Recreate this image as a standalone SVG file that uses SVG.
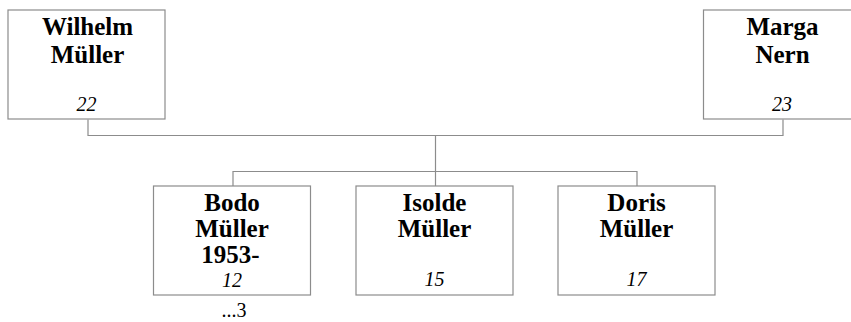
<svg xmlns="http://www.w3.org/2000/svg" width="851" height="322" viewBox="0 0 851 322">
<style>
.box{fill:#fff;stroke:#8c8c8c;stroke-width:1.2}
.n{font-family:"Liberation Serif","Times New Roman",serif;font-weight:bold;font-size:25px;text-anchor:middle;fill:#000}
.i{font-family:"Liberation Serif","Times New Roman",serif;font-style:italic;font-size:20px;text-anchor:middle;fill:#000}
.r{font-family:"Liberation Serif","Times New Roman",serif;font-size:20px;text-anchor:middle;fill:#000}
.c{fill:none;stroke:#8c8c8c;stroke-width:1.2}
</style>
<rect width="851" height="322" fill="#fff"/>
<g id="connectors">
<path class="c" d="M88 119.5V135.5H783V119.5"/>
<path class="c" d="M435.5 135.5V186"/>
<path class="c" d="M233 186V171.5H637V186"/>
</g>
<g id="wilhelm">
<rect class="box" x="8" y="10" width="157" height="109"/>
<text class="n" x="87.5" y="35">Wilhelm</text>
<text class="n" x="87.5" y="63">Müller</text>
<text class="i" x="86.5" y="111">22</text>
</g>
<g id="marga">
<rect class="box" x="703.5" y="10" width="157" height="109"/>
<text class="n" x="782.5" y="35">Marga</text>
<text class="n" x="782.5" y="63">Nern</text>
<text class="i" x="782" y="111">23</text>
</g>
<g id="bodo">
<rect class="box" x="153.5" y="186" width="157" height="109"/>
<text class="n" x="232" y="211">Bodo</text>
<text class="n" x="232" y="237">Müller</text>
<text class="n" x="230.5" y="263">1953-</text>
<text class="i" x="232" y="287">12</text>
<text class="r" x="234" y="317">...3</text>
</g>
<g id="isolde">
<rect class="box" x="356" y="186" width="157" height="109"/>
<text class="n" x="434.5" y="211">Isolde</text>
<text class="n" x="434.5" y="237">Müller</text>
<text class="i" x="434.5" y="286">15</text>
</g>
<g id="doris">
<rect class="box" x="558" y="186" width="157" height="109"/>
<text class="n" x="636.5" y="211">Doris</text>
<text class="n" x="636.5" y="237">Müller</text>
<text class="i" x="636.5" y="286">17</text>
</g>
</svg>
